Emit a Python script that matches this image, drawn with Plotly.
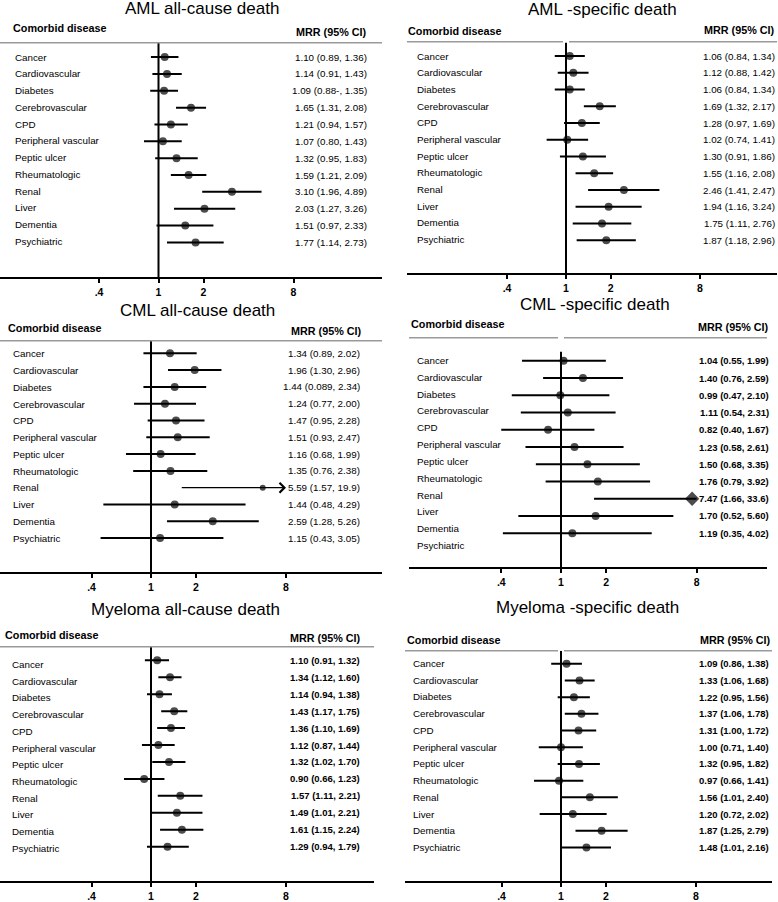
import math
import plotly.graph_objects as go

W, H = 778, 902
FONT = "Liberation Sans, Arial, sans-serif"
CLIP = 8.0

diseases = ["Cancer", "Cardiovascular", "Diabetes", "Cerebrovascular", "CPD",
            "Peripheral vascular", "Peptic ulcer", "Rheumatologic", "Renal",
            "Liver", "Dementia", "Psychiatric"]

tick_vals = [0.4, 1, 2, 8]
tick_text = [".4", "1", "2", "8"]

# AML all-cause death
aml_all_est = [1.10, 1.14, 1.09, 1.65, 1.21, 1.07, 1.32, 1.59, 3.10, 2.03, 1.51, 1.77]
aml_all_lo = [0.89, 0.91, 0.88, 1.31, 0.94, 0.80, 0.95, 1.21, 1.96, 1.27, 0.97, 1.14]
aml_all_hi = [1.36, 1.43, 1.35, 2.08, 1.57, 1.43, 1.83, 2.09, 4.89, 3.26, 2.33, 2.73]
aml_all_txt = ["1.10 (0.89, 1.36)", "1.14 (0.91, 1.43)", "1.09 (0.88-, 1.35)", "1.65 (1.31, 2.08)",
               "1.21 (0.94, 1.57)", "1.07 (0.80, 1.43)", "1.32 (0.95, 1.83)", "1.59 (1.21, 2.09)",
               "3.10 (1.96, 4.89)", "2.03 (1.27, 3.26)", "1.51 (0.97, 2.33)", "1.77 (1.14, 2.73)"]

# AML-specific death
aml_sp_est = [1.06, 1.12, 1.06, 1.69, 1.28, 1.02, 1.30, 1.55, 2.46, 1.94, 1.75, 1.87]
aml_sp_lo = [0.84, 0.88, 0.84, 1.32, 0.97, 0.74, 0.91, 1.16, 1.41, 1.16, 1.11, 1.18]
aml_sp_hi = [1.34, 1.42, 1.34, 2.17, 1.69, 1.41, 1.86, 2.08, 4.27, 3.24, 2.76, 2.96]
aml_sp_txt = ["1.06 (0.84, 1.34)", "1.12 (0.88, 1.42)", "1.06 (0.84, 1.34)", "1.69 (1.32, 2.17)",
              "1.28 (0.97, 1.69)", "1.02 (0.74, 1.41)", "1.30 (0.91, 1.86)", "1.55 (1.16, 2.08)",
              "2.46 (1.41, 2.47)", "1.94 (1.16, 3.24)", "1.75 (1.11, 2.76)", "1.87 (1.18, 2.96)"]

# CML all-cause death
cml_all_est = [1.34, 1.96, 1.44, 1.24, 1.47, 1.51, 1.16, 1.35, 5.59, 1.44, 2.59, 1.15]
cml_all_lo = [0.89, 1.30, 0.89, 0.77, 0.95, 0.93, 0.68, 0.76, 1.57, 0.48, 1.28, 0.46]
cml_all_hi = [2.02, 2.96, 2.34, 2.00, 2.28, 2.47, 1.99, 2.38, 19.9, 4.29, 5.26, 3.05]
cml_all_txt = ["1.34 (0.89, 2.02)", "1.96 (1.30, 2.96)", "1.44 (0.089, 2.34)", "1.24 (0.77, 2.00)",
               "1.47 (0.95, 2.28)", "1.51 (0.93, 2.47)", "1.16 (0.68, 1.99)", "1.35 (0.76, 2.38)",
               "5.59 (1.57, 19.9)", "1.44 (0.48, 4.29)", "2.59 (1.28, 5.26)", "1.15 (0.43, 3.05)"]

# CML-specific death
cml_sp_est = [1.04, 1.40, 0.99, 1.11, 0.82, 1.23, 1.50, 1.76, 7.47, 1.70, 1.19, None]
cml_sp_lo = [0.55, 0.76, 0.47, 0.54, 0.40, 0.58, 0.68, 0.79, 1.66, 0.52, 0.41, None]
cml_sp_hi = [1.99, 2.59, 2.10, 2.31, 1.67, 2.61, 3.35, 3.92, 33.6, 5.60, 4.02, None]
cml_sp_txt = ["1.04 (0.55, 1.99)", "1.40 (0.76, 2.59)", "0.99 (0.47, 2.10)", "1.11 (0.54, 2.31)",
              "0.82 (0.40, 1.67)", "1.23 (0.58, 2.61)", "1.50 (0.68, 3.35)", "1.76 (0.79, 3.92)",
              "7.47 (1.66, 33.6)", "1.70 (0.52, 5.60)", "1.19 (0.35, 4.02)", ""]

# Myeloma all-cause death
mm_all_est = [1.10, 1.34, 1.14, 1.43, 1.36, 1.12, 1.32, 0.90, 1.57, 1.49, 1.61, 1.29]
mm_all_lo = [0.91, 1.12, 0.94, 1.17, 1.10, 0.87, 1.02, 0.66, 1.11, 1.01, 1.15, 0.94]
mm_all_hi = [1.32, 1.60, 1.38, 1.75, 1.69, 1.44, 1.70, 1.23, 2.21, 2.21, 2.24, 1.79]
mm_all_txt = ["1.10 (0.91, 1.32)", "1.34 (1.12, 1.60)", "1.14 (0.94, 1.38)", "1.43 (1.17, 1.75)",
              "1.36 (1.10, 1.69)", "1.12 (0.87, 1.44)", "1.32 (1.02, 1.70)", "0.90 (0.66, 1.23)",
              "1.57 (1.11, 2.21)", "1.49 (1.01, 2.21)", "1.61 (1.15, 2.24)", "1.29 (0.94, 1.79)"]

# Myeloma-specific death
mm_sp_est = [1.09, 1.33, 1.22, 1.37, 1.31, 1.00, 1.32, 0.97, 1.56, 1.20, 1.87, 1.48]
mm_sp_lo = [0.86, 1.06, 0.95, 1.06, 1.00, 0.71, 0.95, 0.66, 1.01, 0.72, 1.25, 1.01]
mm_sp_hi = [1.38, 1.68, 1.56, 1.78, 1.72, 1.40, 1.82, 1.41, 2.40, 2.02, 2.79, 2.16]
mm_sp_txt = ["1.09 (0.86, 1.38)", "1.33 (1.06, 1.68)", "1.22 (0.95, 1.56)", "1.37 (1.06, 1.78)",
             "1.31 (1.00, 1.72)", "1.00 (0.71, 1.40)", "1.32 (0.95, 1.82)", "0.97 (0.66, 1.41)",
             "1.56 (1.01, 2.40)", "1.20 (0.72, 2.02)", "1.87 (1.25, 2.79)", "1.48 (1.01, 2.16)"]

panels = [
    dict(title="AML all-cause death", est=aml_all_est, lo=aml_all_lo, hi=aml_all_hi, txt=aml_all_txt,
         xl=0, xr=382, x1=158.5, ppd=45, top=43, bot=278, row0=57.3, step=16.9, lab0=57.3, labstep=16.8,
         labx=13, mrrx=369, tx=202, ty=9, cdx=11, cdy=28, mhx=369, mhy=32, gap=False, vtop=43,
         bold=False, over=None),
    dict(title="AML -specific death", est=aml_sp_est, lo=aml_sp_lo, hi=aml_sp_hi, txt=aml_sp_txt,
         xl=407, xr=777, x1=566, ppd=44.6, top=42, bot=274, row0=56.3, step=16.8, lab0=56.5, labstep=16.7,
         labx=415, mrrx=777, tx=602, ty=10, cdx=406, cdy=31, mhx=777, mhy=30, gap=True, vtop=43,
         bold=False, over=None),
    dict(title="CML all-cause death", est=cml_all_est, lo=cml_all_lo, hi=cml_all_hi, txt=cml_all_txt,
         xl=0, xr=382, x1=151, ppd=45, top=342, bot=574, row0=354.5, step=16.85, lab0=355, labstep=16.8,
         labx=11, mrrx=362, tx=197, ty=312, cdx=6, cdy=329, mhx=364, mhy=332, gap=False, vtop=342,
         bold=False, over="arrow"),
    dict(title="CML -specific death", est=cml_sp_est, lo=cml_sp_lo, hi=cml_sp_hi, txt=cml_sp_txt,
         xl=409, xr=767, x1=561, ppd=45.2, top=339, bot=569, row0=362, step=17.3, lab0=361.7, labstep=16.87,
         labx=415, mrrx=771, tx=595, ty=306, cdx=409, cdy=325, mhx=771, mhy=328, gap=True, vtop=353,
         bold=True, over="diamond"),
    dict(title="Myeloma all-cause death", est=mm_all_est, lo=mm_all_lo, hi=mm_all_hi, txt=mm_all_txt,
         xl=0, xr=374, x1=151, ppd=45, top=649, bot=884, row0=662.5, step=17.0, lab0=666.5, labstep=16.8,
         labx=10, mrrx=362, tx=185, ty=612, cdx=3, cdy=637, mhx=363, mhy=640, gap=False, vtop=649,
         bold=True, over=None),
    dict(title="Myeloma -specific death", est=mm_sp_est, lo=mm_sp_lo, hi=mm_sp_hi, txt=mm_sp_txt,
         xl=405, xr=772, x1=561, ppd=45, top=653, bot=884, row0=666, step=16.75, lab0=665.7, labstep=16.8,
         labx=411, mrrx=771, tx=587, ty=610, cdx=405, cdy=642, mhx=773, mhy=642, gap=True, vtop=653,
         bold=True, over=None),
]

fig = go.Figure()
layout = dict(width=W, height=H, margin=dict(l=0, r=0, t=0, b=0),
              paper_bgcolor="white", plot_bgcolor="white", showlegend=False)
annotations = []
shapes = []


def px_x(p):
    return p / W


def px_y(p):
    return 1 - p / H


L2 = math.log10(2)

for k, p in enumerate(panels, start=1):
    xid = "x" if k == 1 else f"x{k}"
    yid = "y" if k == 1 else f"y{k}"
    xkey = "xaxis" if k == 1 else f"xaxis{k}"
    ykey = "yaxis" if k == 1 else f"yaxis{k}"
    ppdec = p["ppd"] / L2  # pixels per decade
    xr0 = (p["xl"] - p["x1"]) / ppdec
    xr1 = (p["xr"] - p["x1"]) / ppdec
    yb = (p["bot"] - p["row0"]) / p["step"]
    yt = (p["top"] - p["row0"]) / p["step"]

    layout[xkey] = dict(domain=[px_x(p["xl"]), px_x(p["xr"])], anchor=yid, type="log",
                        range=[xr0, xr1], showgrid=False, zeroline=False,
                        showline=True, linecolor="black", linewidth=2,
                        ticks="outside", ticklen=4, tickwidth=1.5, tickcolor="black",
                        tickvals=tick_vals, ticktext=[f"<b>{t}</b>" for t in tick_text],
                        tickfont=dict(family=FONT, size=10.5, color="black"))
    layout[ykey] = dict(domain=[px_y(p["bot"]), px_y(p["top"])], anchor=xid,
                        range=[yb, yt], visible=False, showgrid=False, zeroline=False)

    # null line at MRR = 1
    yv_top = (p["vtop"] - p["row0"]) / p["step"]
    fig.add_trace(go.Scatter(x=[1, 1], y=[yb, yv_top], mode="lines",
                             line=dict(color="black", width=2), xaxis=xid, yaxis=yid,
                             hoverinfo="skip"))

    # confidence intervals
    xs, ys = [], []
    mx, my, msym, msize = [], [], [], []
    for i in range(len(diseases)):
        e, lo, hi = p["est"][i], p["lo"][i], p["hi"][i]
        if e is None:
            continue
        over = hi > CLIP
        if over and p["over"] == "arrow":
            annotations.append(dict(x=math.log10(CLIP), y=i, ax=math.log10(lo), ay=i,
                                    xref=xid, yref=yid, axref=xid, ayref=yid, text="",
                                    showarrow=True, arrowhead=4, arrowsize=1.6,
                                    arrowwidth=1.2, arrowcolor="black"))
        else:
            xs += [lo, min(hi, CLIP), None]
            ys += [i, i, None]
        mx.append(e)
        my.append(i)
        if over and p["over"] == "diamond":
            msym.append("diamond")
            msize.append(11)
        elif over:
            msym.append("circle")
            msize.append(6)
        else:
            msym.append("circle")
            msize.append(8)
    fig.add_trace(go.Scatter(x=xs, y=ys, mode="lines", line=dict(color="black", width=2),
                             xaxis=xid, yaxis=yid, hoverinfo="skip"))
    fig.add_trace(go.Scatter(x=mx, y=my, mode="markers",
                             marker=dict(color="black", symbol=msym, size=msize, line=dict(width=0)),
                             xaxis=xid, yaxis=yid))

    # row labels and MRR text
    for i, name in enumerate(diseases):
        ylab = (p["lab0"] + p["labstep"] * i - p["row0"]) / p["step"]
        annotations.append(dict(x=px_x(p["labx"]), y=ylab, xref="paper", yref=yid,
                                text=name, showarrow=False, xanchor="left", yanchor="middle",
                                font=dict(family=FONT, size=9.8, color="black")))
        t = p["txt"][i]
        if t:
            annotations.append(dict(x=px_x(p["mrrx"]), y=i, xref="paper", yref=yid,
                                    text=(f"<b>{t}</b>" if p["bold"] else t), showarrow=False,
                                    xanchor="right", yanchor="middle",
                                    font=dict(family=FONT, size=9.5 if p["bold"] else 9.8,
                                              color="black")))

    # title and headers
    annotations.append(dict(x=px_x(p["tx"]), y=px_y(p["ty"]), xref="paper", yref="paper",
                            text=p["title"], showarrow=False, xanchor="center", yanchor="middle",
                            font=dict(family=FONT, size=17, color="black")))
    annotations.append(dict(x=px_x(p["cdx"]), y=px_y(p["cdy"]), xref="paper", yref="paper",
                            text="<b>Comorbid disease</b>", showarrow=False, xanchor="left",
                            yanchor="middle", font=dict(family=FONT, size=10.8, color="black")))
    annotations.append(dict(x=px_x(p["mhx"]), y=px_y(p["mhy"]), xref="paper", yref="paper",
                            text="<b>MRR (95% CI)</b>", showarrow=False, xanchor="right",
                            yanchor="middle", font=dict(family=FONT, size=10.8, color="black")))

    # header rule
    hy = px_y(p["top"])
    hline = dict(type="line", xref="paper", yref="paper", y0=hy, y1=hy,
                 line=dict(color="#9a9a9a", width=1.5))
    if p["gap"]:
        shapes.append(dict(hline, x0=px_x(p["xl"]), x1=px_x(p["x1"] - 3)))
        shapes.append(dict(hline, x0=px_x(p["x1"] + 3), x1=px_x(p["xr"])))
    else:
        shapes.append(dict(hline, x0=px_x(p["xl"]), x1=px_x(p["xr"])))

layout["annotations"] = annotations
layout["shapes"] = shapes
fig.update_layout(**layout)
fig.write_html("out.html", config={"displayModeBar": False},
               post_script="document.body.style.margin='0';document.body.style.overflow='hidden';")
